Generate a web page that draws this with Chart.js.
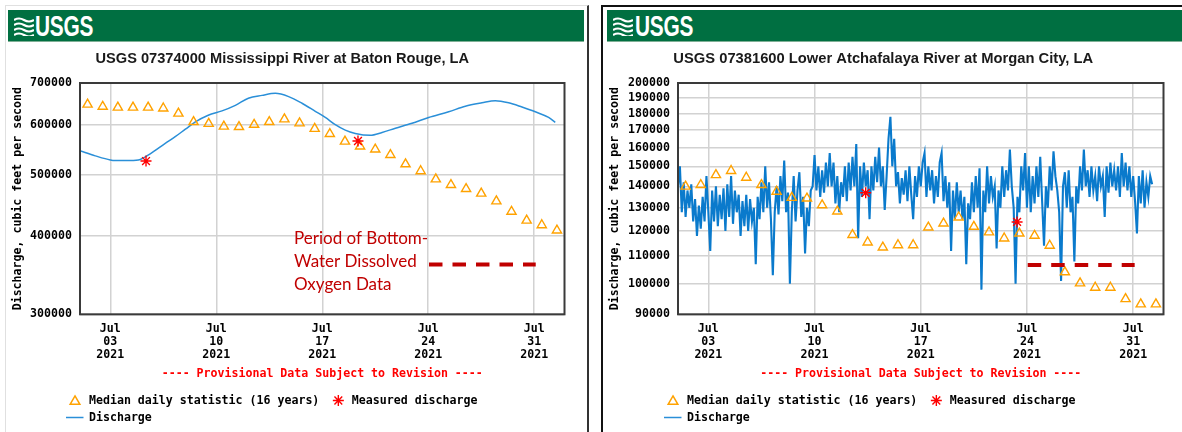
<!DOCTYPE html>
<html>
<head>
<meta charset="utf-8">
<script src="https://cdn.jsdelivr.net/npm/chart.js@4.4.1/dist/chart.umd.min.js"></script>
<style>
  html, body { margin: 0; padding: 0; background: #fff; width: 1182px; height: 432px; overflow: hidden; }
  .panel { position: absolute; box-sizing: border-box; }
  #p1 { left: 5px; top: 5px; width: 584px; height: 440px; border-left: 1px solid #e0e0e0; border-top: 1px solid #e0e0e0; border-right: 2px solid #333; }
  #p2 { left: 601px; top: 5px; width: 600px; height: 440px; border-left: 2px solid #111; border-top: 2px solid #111; }
  .band { position: absolute; top: 10px; height: 32px; background: #006f41; box-sizing: border-box; border-bottom: 1px solid #7fb096; }
  #b1 { left: 8px; width: 576px; }
  #b2 { left: 607px; width: 575px; }
  .wave { position: absolute; top: 17px; width: 20px; height: 19px; }
  .logo { position: absolute; top: 12.3px; font: bold 29px "Liberation Sans", Arial, sans-serif; line-height: 28px; color: #fff; transform: scaleX(0.72); transform-origin: 0 0; letter-spacing: -0.3px; }
  canvas { position: absolute; }
</style>
</head>
<body>
<div class="panel" id="p1"></div>
<div class="panel" id="p2"></div>
<div class="band" id="b1"></div>
<div class="band" id="b2"></div>
<svg class="wave" style="left:14px" viewBox="0 0 20 19"><g fill="none" stroke="#fff" stroke-width="2.2"><path d="M0 3 Q5 0 10 3 T20 3"/><path d="M0 8 Q5 5 10 8 T20 8"/><path d="M0 13 Q5 10 10 13 T20 13"/><path d="M0 18 Q5 15 10 18 T20 18"/></g></svg>
<svg class="wave" style="left:613px" viewBox="0 0 20 19"><g fill="none" stroke="#fff" stroke-width="2.2"><path d="M0 3 Q5 0 10 3 T20 3"/><path d="M0 8 Q5 5 10 8 T20 8"/><path d="M0 13 Q5 10 10 13 T20 13"/><path d="M0 18 Q5 15 10 18 T20 18"/></g></svg>
<div class="logo" style="left:35px">USGS</div>
<div class="logo" style="left:635px">USGS</div>
<canvas id="c1" width="588" height="389" style="left:0px;top:43px"></canvas>
<canvas id="c2" width="579" height="389" style="left:603px;top:43px"></canvas>

<script>
// ================= DATA =================
// x values are days after 2021-07-01 00:00
const xTickDays = [2, 9, 16, 23, 30];
const xTickLabels = [
  ['Jul', '03', '2021'],
  ['Jul', '10', '2021'],
  ['Jul', '17', '2021'],
  ['Jul', '24', '2021'],
  ['Jul', '31', '2021']
];
const legendLabels = ['Median daily statistic (16 years)', 'Measured discharge', 'Discharge'];
const provisionalText = '---- Provisional Data Subject to Revision ----';
const yAxisTitle = 'Discharge, cubic feet per second';

// median statistic is plotted at noon of each day, Jul 1 .. Aug 1
const medianDays = [0.5, 1.5, 2.5, 3.5, 4.5, 5.5, 6.5, 7.5, 8.5, 9.5, 10.5, 11.5, 12.5, 13.5, 14.5, 15.5,
                    16.5, 17.5, 18.5, 19.5, 20.5, 21.5, 22.5, 23.5, 24.5, 25.5, 26.5, 27.5, 28.5, 29.5, 30.5, 31.5];

// ---- USGS 07374000 Mississippi River at Baton Rouge, LA ----
const batonTitle = 'USGS 07374000 Mississippi River at Baton Rouge, LA';
const batonYTicks = [300000, 400000, 500000, 600000, 700000];
const batonMedian = [647000, 642000, 640000, 640000, 640000, 638000, 626000, 607000, 603000, 597000, 596000,
                     601000, 607000, 613000, 604000, 592000, 581000, 565000, 555000, 549000, 538000, 520000,
                     507000, 492000, 482000, 475000, 467000, 454000, 437000, 423000, 416000, 408000];
const batonMeasuredDays = [4.36, 18.36];
const batonMeasured = [526000, 566000];
const batonFlowDays = [0, 1.01, 2.0, 2.33, 3.32, 3.98, 4.64, 5.63, 6.29, 6.96, 7.62, 8.47, 9.38, 10.26, 11.12,
                       12.02, 12.9, 13.78, 14.66, 15.54, 16.2, 16.86, 17.52, 18.18, 19.17, 19.95, 20.83, 21.93,
                       23.03, 24.35, 25.45, 26.55, 27.43, 28.31, 29.19, 30.07, 30.95, 31.39];
const batonFlow = [546000, 536000, 528000, 527000, 527000, 529000, 540000, 561000, 575000, 591000, 607000,
                   622000, 632000, 645000, 662000, 669000, 674000, 666000, 650000, 631000, 617000, 601000,
                   589000, 582000, 578000, 584000, 593000, 604000, 617000, 630000, 643000, 651000, 656000,
                   651000, 641000, 630000, 617000, 606000];
const batonDoDays = [23.05, 30.1];
const batonDo = [360000, 360000];
const batonNote = ['Period of Bottom-', 'Water Dissolved', 'Oxygen Data'];

// ---- USGS 07381600 Lower Atchafalaya River at Morgan City, LA ----
const morganTitle = 'USGS 07381600 Lower Atchafalaya River at Morgan City, LA';
const morganYTicks = [90000, 100000, 110000, 120000, 130000, 140000, 150000, 160000, 170000, 180000, 190000, 200000];
const morganMedian = [139900, 140700, 145600, 147700, 144300, 140700, 137500, 134600, 134300, 131200, 128400,
                      118400, 115400, 113400, 114300, 114300, 121500, 123200, 125800, 121800, 119500, 117000,
                      119000, 118100, 114100, 104100, 100200, 98700, 98700, 94900, 93200, 93200];
const morganMeasuredDays = [12.37, 22.35];
const morganMeasured = [136900, 123800];
// discharge read every 3 hours starting Jul 1 00:00, in thousands of cfs (one row per day)
const morganFlowStartDay = 0;
const morganFlowStepHours = 3;
const morganFlowK = [
  140, 150, 128, 142, 126, 138, 130, 141,
  124, 134, 118, 131, 121, 135, 124, 145,
  128, 112, 138, 124, 140, 122, 136, 125,
  139, 120, 141, 126, 145, 123, 138, 128,
  136, 118, 133, 122, 136, 120, 134, 124,
  130, 107, 135, 125, 142, 128, 150, 130,
  142, 125, 103, 128, 140, 127, 145, 133,
  153, 128, 137, 100, 128, 145, 124, 138,
  147, 126, 135, 111, 130, 122, 138, 140,
  156, 138, 150, 135, 148, 137, 152, 140,
  157, 140, 152, 132, 145, 128, 142, 135,
  150, 133, 152, 138, 155, 140, 162, 117,
  150, 135, 152, 140, 148, 125, 150, 138,
  155, 142, 160, 140, 150, 129, 145, 165,
  178, 150, 165, 140, 147, 132, 144, 136,
  148, 133, 150, 136, 125, 145, 135, 150,
  140, 152, 157, 135, 150, 138, 148, 132,
  145, 135, 152, 157, 133, 145, 130, 142,
  112, 138, 125, 142, 128, 138, 125, 135,
  107, 132, 125, 142, 128, 145, 130, 149,
  98, 138, 128, 150, 132, 145, 135, 140,
  113, 138, 130, 150, 135, 148, 138, 159,
  140, 130, 100, 135, 128, 150, 138, 157,
  130, 150, 128, 145, 132, 150, 135, 155,
  133, 114, 140, 130, 150, 138, 158, 145,
  138, 128, 101, 140, 147, 130, 148, 128,
  135, 108, 140, 132, 150, 138, 159, 140,
  148, 135, 150, 138, 145, 133, 150, 140,
  145, 126, 150, 137, 152, 140, 148, 138,
  150, 135, 157, 140, 152, 138, 150, 135,
  145, 133, 119, 145, 132, 148, 130, 142,
  135, 145, 141
];
const morganDoDays = [23.05, 30.1];
const morganDo = [106700, 106700];

// ================= STYLE / RENDER =================
const MONO = '"DejaVu Sans Mono", monospace';
const monoFont = { family: MONO, size: 11.6, weight: 'bold', lineHeight: 1.12 };
const MONO_CSS = 'bold 11.6px "DejaVu Sans Mono", monospace';

// choose a condensed bold face for the titles (falls back to Liberation Sans)
function titleFont(text, targetWidth) {
  const cx = document.createElement('canvas').getContext('2d');
  cx.font = 'bold 16px "Liberation Sans Narrow", monospace';
  const a = cx.measureText(text).width;
  cx.font = 'bold 16px monospace';
  const b = cx.measureText(text).width;
  const fam = (Math.abs(a - b) > 0.5) ? '"Liberation Sans Narrow", "Liberation Sans", sans-serif'
                                      : '"Liberation Sans", Arial, sans-serif';
  cx.font = 'bold 16px ' + fam;
  const w = cx.measureText(text).width;
  return { family: fam, weight: 'bold', size: Math.min(18, 16 * targetWidth / w), lineHeight: '18.6px' };
}

function pts(xs, ys) { return xs.map((x, i) => ({ x: x, y: ys[i] })); }

function drawTri(ctx, x, y, r) {
  ctx.beginPath();
  ctx.moveTo(x, y - r);
  ctx.lineTo(x + r * Math.sin(2 * Math.PI / 3), y - r * Math.cos(2 * Math.PI / 3));
  ctx.lineTo(x + r * Math.sin(4 * Math.PI / 3), y - r * Math.cos(4 * Math.PI / 3));
  ctx.closePath();
  ctx.stroke();
}
function drawAst(ctx, x, y, r) {
  ctx.beginPath();
  for (let k = 0; k < 4; k++) {
    const a = k * Math.PI / 4;
    ctx.moveTo(x - r * Math.cos(a), y - r * Math.sin(a));
    ctx.lineTo(x + r * Math.cos(a), y + r * Math.sin(a));
  }
  ctx.stroke();
}

const extras = {
  id: 'usgsExtras',
  afterDraw(chart, args, o) {
    const ctx = chart.ctx, a = chart.chartArea;
    const L = a.left;
    ctx.save();
    // plot frame
    ctx.strokeStyle = '#3a3a3a';
    ctx.lineWidth = 2;
    ctx.strokeRect(a.left, a.top, a.right - a.left, a.bottom - a.top);
    // note text
    if (o.note) {
      ctx.font = '17px Lato, "Open Sans", sans-serif';
      ctx.fillStyle = '#c00000';
      ctx.textAlign = 'left';
      ctx.textBaseline = 'middle';
      o.note.forEach((t, i) => ctx.fillText(t, L + o.noteDx, a.top + o.noteDy + i * 23.2));
    }
    // provisional
    ctx.font = MONO_CSS;
    ctx.fillStyle = '#ff0000';
    ctx.textAlign = 'center';
    ctx.textBaseline = 'middle';
    ctx.fillText(provisionalText, (a.left + a.right) / 2, a.bottom + 59.7);
    // legend
    const y1 = a.bottom + 86.2, y2 = a.bottom + 103.2;
    ctx.textAlign = 'left';
    ctx.fillStyle = '#000';
    ctx.lineWidth = 1.5;
    ctx.strokeStyle = '#ffa200';
    drawTri(ctx, L - 5, y1 + 1, 5.6);
    ctx.fillText(legendLabels[0], L + 9, y1);
    const w1 = ctx.measureText(legendLabels[0]).width;
    const ax = L + 9 + w1 + 19;
    ctx.strokeStyle = '#ff0000';
    ctx.lineWidth = 1.4;
    drawAst(ctx, ax, y1, 5.5);
    ctx.fillText(legendLabels[1], ax + 13.5, y1);
    ctx.strokeStyle = '#2a8fd8';
    ctx.lineWidth = 1.5;
    ctx.beginPath();
    ctx.moveTo(L - 14, y2);
    ctx.lineTo(L + 3.5, y2);
    ctx.stroke();
    ctx.fillText(legendLabels[2], L + 9, y2);
    ctx.restore();
  }
};

function buildChart(id, c) {
  return new Chart(document.getElementById(id), {
    type: 'scatter',
    data: {
      datasets: [
        { label: 'Bottom-water DO period', data: pts(c.doDays, c.doVals), showLine: true,
          borderColor: '#c00000', borderWidth: 4, borderDash: [13.5, 10], pointRadius: 0, borderCapStyle: 'butt' },
        { label: legendLabels[1], data: pts(c.measDays, c.meas), showLine: false, pointStyle: 'star',
          pointRadius: 5.5, pointBorderColor: '#ff0000', pointBackgroundColor: '#ff0000', pointBorderWidth: 1.4 },
        { label: legendLabels[0], data: pts(medianDays, c.median), showLine: false, pointStyle: 'triangle',
          pointRadius: 5.3, pointBorderColor: '#ffa200', pointBackgroundColor: 'rgba(0,0,0,0)', pointBorderWidth: 1.4 },
        { label: legendLabels[2], data: c.flow, showLine: true, borderColor: c.flowColor, borderWidth: c.flowWidth,
          pointRadius: 0, cubicInterpolationMode: c.smooth ? 'monotone' : 'default', tension: 0, borderJoinStyle: 'miter' }
      ]
    },
    plugins: [extras],
    options: {
      responsive: false,
      animation: false,
      events: [],
      layout: { padding: { left: 0, right: c.padRight, top: 0, bottom: 0 } },
      plugins: {
        legend: { display: false },
        tooltip: { enabled: false },
        title: { display: true, text: c.title, color: '#1a1a1a',
                 font: titleFont(c.title, c.titleWidth),
                 padding: { top: 7, bottom: 14.4 } },
        usgsExtras: { note: c.note, noteDx: 214, noteDy: 155.3 }
      },
      scales: {
        x: {
          type: 'linear', min: 0, max: 32,
          afterBuildTicks: s => { s.ticks = xTickDays.map(v => ({ value: v })); },
          afterFit: s => { s.height = 117.7; },
          ticks: { callback: (v) => xTickLabels[xTickDays.indexOf(v)], font: monoFont, color: '#000',
                   padding: 8, maxRotation: 0, autoSkip: false },
          grid: { color: '#d2d2d2', lineWidth: 1.5, drawTicks: false },
          border: { display: false }
        },
        y: {
          type: 'logarithmic', min: c.yTicks[0], max: c.yTicks[c.yTicks.length - 1],
          afterBuildTicks: s => { s.ticks = c.yTicks.map(v => ({ value: v })); },
          afterFit: s => { s.width = c.yWidth; },
          ticks: { callback: v => String(v), font: monoFont, color: '#000', padding: 8, autoSkip: false },
          grid: { color: '#d2d2d2', lineWidth: 1.5, drawTicks: false },
          border: { display: false },
          title: { display: true, text: yAxisTitle, font: monoFont, color: '#000', padding: { top: c.yTitlePad, bottom: 0 } }
        }
      }
    }
  });
}

buildChart('c1', {
  title: batonTitle, titleWidth: 374, yTicks: batonYTicks, median: batonMedian,
  measDays: batonMeasuredDays, meas: batonMeasured,
  flow: pts(batonFlowDays, batonFlow), smooth: true, flowColor: '#2a8fd8', flowWidth: 1.5,
  doDays: batonDoDays, doVals: batonDo, note: batonNote,
  padRight: 23.5, yWidth: 80, yTitlePad: 11.5
});

buildChart('c2', {
  title: morganTitle, titleWidth: 420, yTicks: morganYTicks, median: morganMedian,
  measDays: morganMeasuredDays, meas: morganMeasured,
  flow: morganFlowK.map((v, i) => ({ x: morganFlowStartDay + i * morganFlowStepHours / 24, y: v * 1000 })),
  smooth: false, flowColor: '#0a7acc', flowWidth: 2.1,
  doDays: morganDoDays, doVals: morganDo, note: null,
  padRight: 18.5, yWidth: 75, yTitlePad: 5.5
});
</script>
</body>
</html>
